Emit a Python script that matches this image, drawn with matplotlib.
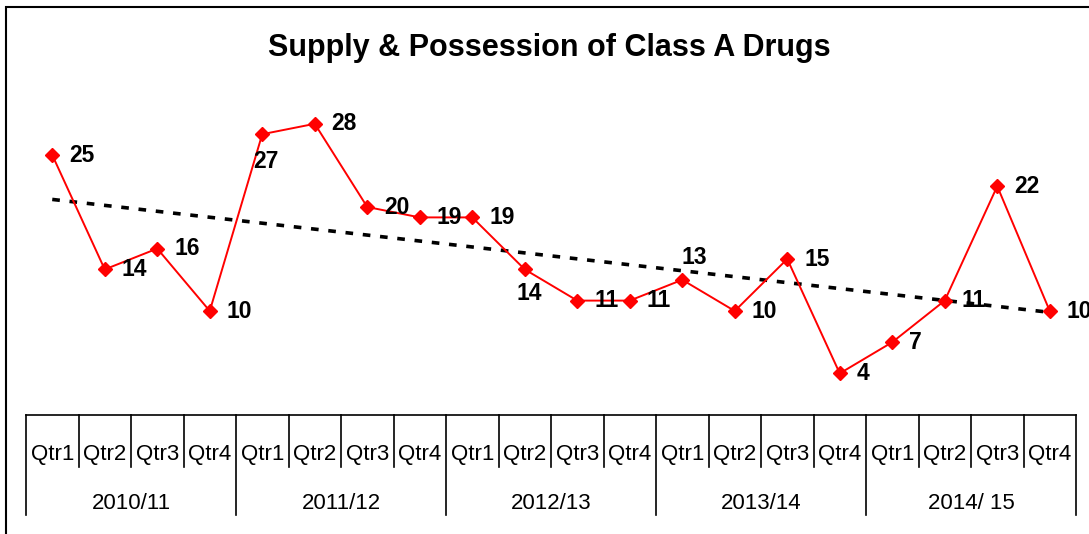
import numpy as np
import matplotlib
matplotlib.use('Agg')
import matplotlib.pyplot as plt
from matplotlib.patches import Rectangle

plt.rcParams['font.family'] = ['Liberation Sans', 'DejaVu Sans']
plt.rcParams['lines.scale_dashes'] = False

# data
years = ['2010/11', '2011/12', '2012/13', '2013/14', '2014/ 15']
quarters = ['Qtr1', 'Qtr2', 'Qtr3', 'Qtr4']
values = [25, 14, 16, 10, 27, 28, 20, 19, 19, 14, 11, 11, 13, 10, 15, 4, 7, 11, 22, 10]

# label offsets in pixels (dx, dy) from each point; default is to the right
label_offsets = {4: (-9, -27), 9: (-8, -24), 12: (-1, 22)}

W, H = 1089, 534
fig = plt.figure(figsize=(W / 100, H / 100), dpi=100)

# outer border (right and bottom run off the image)
fig.patches.append(Rectangle((6 / W, -0.1), 1.2, (H - 7) / H + 0.1, transform=fig.transFigure,
                             fill=False, edgecolor='black', linewidth=1.5))

ax = fig.add_axes([26 / W, (H - 415) / H, 1050 / W, 312 / H])
x = np.arange(len(values))
ax.set_xlim(-0.5, len(values) - 0.5)
ax.set_ylim(0, 30)
for s in ax.spines.values():
    s.set_visible(False)
ax.set_xticks([])
ax.set_yticks([])
ax.patch.set_alpha(0)

# trend line
slope, intercept = np.polyfit(x, values, 1)
ax.plot(x, intercept + slope * x, color='black', linewidth=2.6, dashes=(5.5, 7))

ax.plot(x, values, color='red', linewidth=1.4, marker='D', markersize=7,
        markerfacecolor='red', markeredgecolor='red')

for i, v in enumerate(values):
    dx, dy = label_offsets.get(i, (17, 0))
    ax.annotate(str(v), (i, v), xytext=(dx, dy), textcoords='offset pixels',
                ha='left', va='center', fontsize=16.5, fontweight='bold', clip_on=False)

# category table underneath
trans = ax.get_xaxis_transform()
ax.plot([-0.5, len(values) - 0.5], [0, 0], color='black', linewidth=1.2, transform=trans, clip_on=False)
for k in range(len(values) + 1):
    bottom = -0.3205 if k % 4 == 0 else -0.1667
    ax.plot([k - 0.5, k - 0.5], [0, bottom], color='black', linewidth=1.2,
            transform=trans, clip_on=False)
for i in range(len(values)):
    ax.text(i, -0.144, quarters[i % 4], transform=trans, ha='center', va='baseline', fontsize=16)
for j, yl in enumerate(years):
    ax.text(j * 4 + 1.5, -0.301, yl, transform=trans, ha='center', va='baseline', fontsize=16)

fig.text(549 / W, 1 - 48 / H, 'Supply & Possession of Class A Drugs', ha='center', va='center',
         fontsize=22, fontweight='bold')

fig.savefig('out.png', dpi=100)
